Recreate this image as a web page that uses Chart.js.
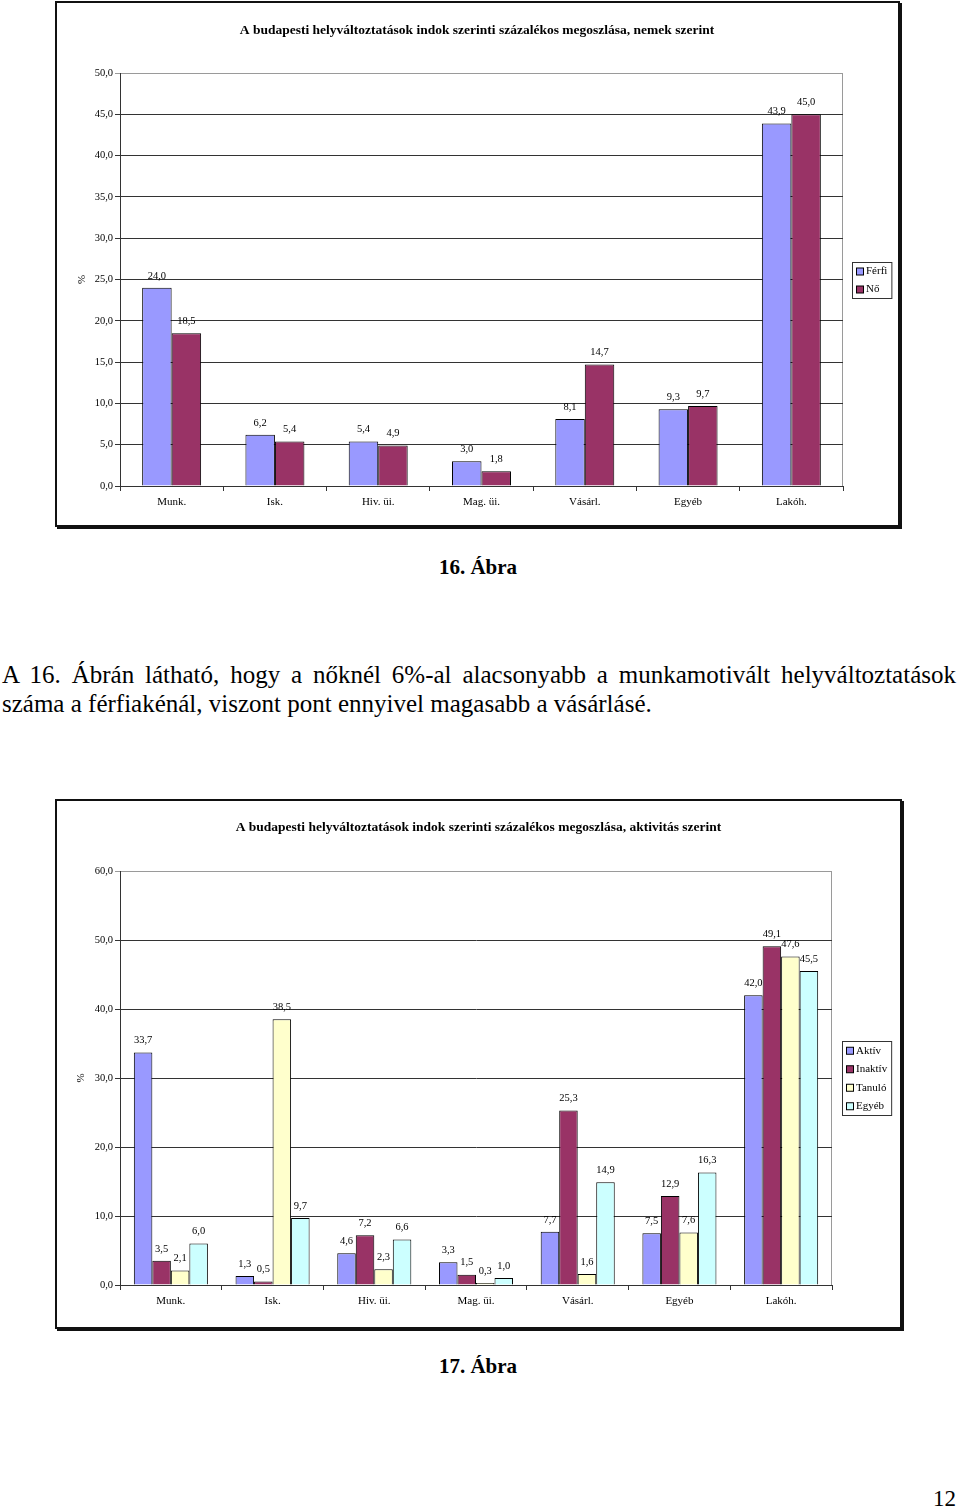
<!DOCTYPE html>
<html>
<head>
<meta charset="utf-8">
<script src="https://cdn.jsdelivr.net/npm/chart.js@4.4.0/dist/chart.umd.min.js"></script>
<style>
  html, body { margin:0; padding:0; background:#fff; }
  body { width:960px; height:1511px; position:relative; overflow:hidden; font-family:"Liberation Serif","Times New Roman",serif; color:#000; }
  .frame { position:absolute; box-sizing:border-box; border:2px solid #111; box-shadow:2px 2px 0 #111; background:#fff; }
  canvas { position:absolute; }
  .cap { position:absolute; left:0; width:956px; text-align:center; font-weight:bold; font-size:21px; }
  .para { position:absolute; left:2px; width:954px; font-size:25px; line-height:29px; }
  .l1 { text-align:justify; text-align-last:justify; white-space:nowrap; }
</style>
</head>
<body>
<div class="frame" style="left:55px;top:1px;width:845px;height:526px;"></div>
<canvas id="c1" width="838" height="519" style="left:58px;top:4px;width:838px;height:519px;"></canvas>
<div class="cap" style="top:555px;">16. Ábra</div>
<div class="para" style="top:660px;">
  <div class="l1" id="line1">A 16. Ábrán látható, hogy a nőknél 6%-al alacsonyabb a munkamotivált helyváltoztatások</div>
  <div>száma a férfiakénál, viszont pont ennyivel magasabb a vásárlásé.</div>
</div>
<div class="frame" style="left:55px;top:799px;width:847px;height:530px;"></div>
<canvas id="c2" width="843" height="522" style="left:57px;top:802px;width:843px;height:522px;"></canvas>
<div class="cap" style="top:1354px;">17. Ábra</div>
<div style="position:absolute;left:933px;top:1486px;font-size:23px;">12</div>

<script>
// ---- data ----
const categories = ["Munk.", "Isk.", "Hiv. üi.", "Mag. üi.", "Vásárl.", "Egyéb", "Lakóh."];
const title1 = "A budapesti helyváltoztatások indok szerinti százalékos megoszlása, nemek szerint";
const title2 = "A budapesti helyváltoztatások indok szerinti százalékos megoszlása, aktivitás szerint";
const ferfi = [24.0, 6.2, 5.4, 3.0, 8.1, 9.3, 43.9];
const no = [18.5, 5.4, 4.9, 1.8, 14.7, 9.7, 45.0];
const aktiv = [33.7, 1.3, 4.6, 3.3, 7.7, 7.5, 42.0];
const inaktiv = [3.5, 0.5, 7.2, 1.5, 25.3, 12.9, 49.1];
const tanulo = [2.1, 38.5, 2.3, 0.3, 1.6, 7.6, 47.6];
const egyeb = [6.0, 9.7, 6.6, 1.0, 14.9, 16.3, 45.5];
const yTicks1 = {min:0, max:50, step:5};
const yTicks2 = {min:0, max:60, step:10};

const FONT = '"Liberation Serif","Times New Roman",serif';
const fmt = v => v.toFixed(1).replace('.', ',');

const decor = {
  id: 'decor',
  beforeDraw(chart) {
    const a = chart.chartArea, ctx = chart.ctx;
    ctx.save();
    ctx.strokeStyle = '#9a9a9a';
    ctx.lineWidth = 1;
    ctx.beginPath();
    ctx.moveTo(a.left, a.top + 0.5);
    ctx.lineTo(a.right - 0.5, a.top + 0.5);
    ctx.lineTo(a.right - 0.5, a.bottom);
    ctx.stroke();
    ctx.restore();
  },
  afterDatasetsDraw(chart) {
    const ctx = chart.ctx;
    ctx.save();
    ctx.font = '10.5px ' + FONT;
    ctx.fillStyle = '#000';
    ctx.textAlign = 'center';
    ctx.textBaseline = 'middle';
    chart.data.datasets.forEach((ds, i) => {
      chart.getDatasetMeta(i).data.forEach((el, j) => {
        ctx.fillText(fmt(ds.data[j]), el.x, el.y - 12);
      });
    });
    ctx.restore();
  },
  afterDraw(chart) {
    const ctx = chart.ctx, a = chart.chartArea, o = chart.options.plugins.decor;
    ctx.save();
    // title
    ctx.font = 'bold 13.5px ' + FONT;
    ctx.fillStyle = '#000';
    ctx.textAlign = 'center';
    ctx.textBaseline = 'middle';
    ctx.fillText(o.title, chart.width / 2, o.titleY);
    // % axis title
    ctx.font = '11px ' + FONT;
    ctx.translate(o.pctX, (a.top + a.bottom) / 2);
    ctx.rotate(-Math.PI / 2);
    ctx.fillText('%', 0, 0);
    ctx.setTransform(1,0,0,1,0,0);
    // legend
    ctx.font = '11px ' + FONT;
    const ds = chart.data.datasets;
    let tw = 0;
    ds.forEach(d => { tw = Math.max(tw, ctx.measureText(d.label).width); });
    const rowH = o.rowH, bw = 4 + 7 + 3 + tw + 4, bh = ds.length * rowH;
    const bx = a.right + o.legendGap, by = Math.round((a.top + a.bottom) / 2 - bh / 2);
    ctx.fillStyle = '#fff';
    ctx.fillRect(bx, by, bw, bh);
    ctx.strokeStyle = '#333';
    ctx.lineWidth = 1;
    ctx.strokeRect(bx + 0.5, by + 0.5, bw, bh);
    ctx.textAlign = 'left';
    ds.forEach((d, i) => {
      const cy = by + rowH * i + rowH / 2 + 0.5;
      ctx.fillStyle = d.backgroundColor;
      ctx.fillRect(bx + 4.5, cy - 3.5, 7, 7);
      ctx.strokeStyle = '#000';
      ctx.strokeRect(bx + 4.5, cy - 3.5, 7, 7);
      ctx.fillStyle = '#000';
      ctx.fillText(d.label, bx + 14, cy);
    });
    ctx.restore();
  }
};

function makeChart(id, datasets, yt, cfg) {
  return new Chart(document.getElementById(id), {
    type: 'bar',
    data: { labels: categories, datasets },
    plugins: [decor],
    options: {
      responsive: false,
      animation: false,
      devicePixelRatio: 1,
      layout: { padding: cfg.padding },
      datasets: { bar: { barPercentage: 1.0, categoryPercentage: cfg.catPct, borderWidth: 1, borderColor: '#000' } },
      plugins: {
        legend: { display: false },
        tooltip: { enabled: false },
        decor: cfg.decor
      },
      scales: {
        x: {
          offset: true,
          grid: { drawOnChartArea: false, drawTicks: true, tickLength: 5, color: '#333', offset: true },
          border: { color: '#333', width: 1 },
          ticks: { font: { family: FONT, size: 11 }, color: '#000', padding: 5, maxRotation: 0 },
          afterFit: s => { s.height = 25; }
        },
        y: {
          min: yt.min, max: yt.max,
          grid: { color: c => (c.tick && c.tick.value === yt.max) ? '#9a9a9a' : '#333', tickLength: 5, drawTicks: true },
          border: { color: '#333', width: 1 },
          ticks: { stepSize: yt.step, font: { family: FONT, size: 10.5 }, color: '#000', padding: 2, callback: v => fmt(v) },
          afterFit: s => { s.width = 42; }
        }
      }
    }
  });
}

makeChart('c1', [
  { label: 'Férfi', data: ferfi, backgroundColor: '#9999FF' },
  { label: 'Nő', data: no, backgroundColor: '#993366' }
], yTicks1, {
  padding: { left: 20, right: 53, top: 69, bottom: 12 },
  catPct: 0.571,
  decor: { title: title1, titleY: 27, pctX: 24, legendGap: 9, rowH: 18 }
});

makeChart('c2', [
  { label: 'Aktív', data: aktiv, backgroundColor: '#9999FF' },
  { label: 'Inaktív', data: inaktiv, backgroundColor: '#993366' },
  { label: 'Tanuló', data: tanulo, backgroundColor: '#FFFFCC' },
  { label: 'Egyéb', data: egyeb, backgroundColor: '#CCFFFF' }
], yTicks2, {
  padding: { left: 21, right: 68, top: 69, bottom: 14 },
  catPct: 0.728,
  decor: { title: title2, titleY: 26, pctX: 24, legendGap: 10, rowH: 18.5 }
});
</script>
</body>
</html>
